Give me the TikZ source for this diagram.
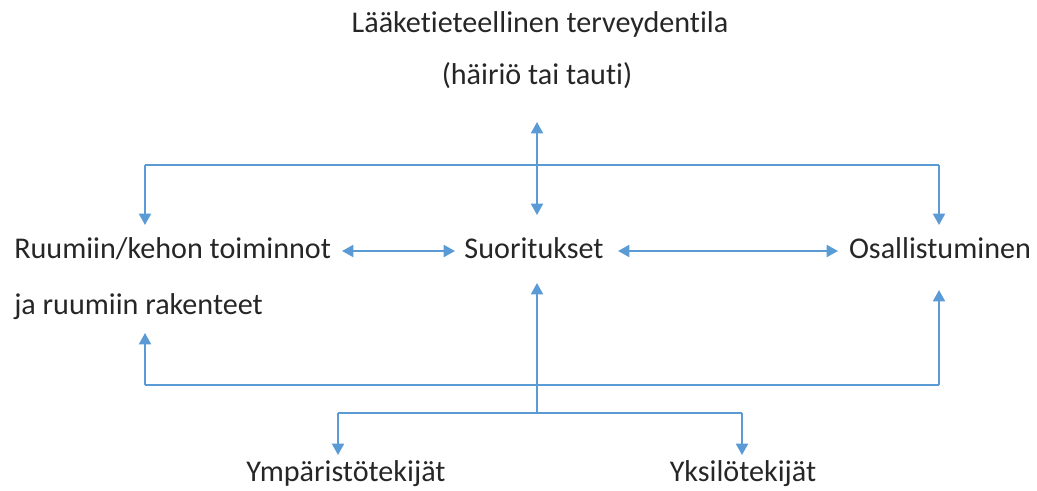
\documentclass[tikz,border=0pt]{standalone}
\usepackage{fontspec}
\setmainfont{Carlito}[Ligatures={NoCommon,NoContextual},Contextuals={NoAlternate}]
\usetikzlibrary{arrows.meta,positioning}
\definecolor{linkblue}{HTML}{5B9BD5}
\definecolor{textgray}{HTML}{262626}

\tikzset{
  lbl/.style={inner sep=0pt, anchor=base, text=textgray,
    font=\fontsize{22.6}{26}\selectfont},
  line/.style={draw=linkblue, line width=1.4pt},
  link/.style={line, -{Triangle[width=9pt,length=8.5pt]}},
  dlink/.style={line, {Triangle[width=9pt,length=8.5pt]}-{Triangle[width=9pt,length=8.5pt]}}
}

\begin{document}
\begin{tikzpicture}[x=0.75pt,y=-0.75pt]
  \useasboundingbox (0,0) rectangle (1037,490);

  % texts
  \node[lbl] (health) at (540,32) {Lääketieteellinen terveydentila};
  \node[lbl] (disorder) at (537,84) {(häiriö tai tauti)};
  \node[lbl,anchor=base west] (body) at (14,258) {Ruumiin/kehon toiminnot};
  \node[lbl,anchor=base west] (struct) at (14,314) {ja ruumiin rakenteet};
  \node[lbl] (activity) at (534,258) {Suoritukset};
  \node[lbl] (particip) at (940,258) {Osallistuminen};
  \node[lbl] (environ) at (346,481) {Ympäristötekijät};
  \node[lbl] (personal) at (743,481) {Yksilötekijät};

  % corner points
  \coordinate (topl) at (145,165);
  \coordinate (topr) at (939,165);
  \coordinate (botl) at (145,385);
  \coordinate (botr) at (939,385);
  \coordinate (ctx) at (537,413);
  \coordinate (ctxl) at (338,413);
  \coordinate (ctxr) at (742,413);

  % upper part
  \draw[dlink] (537,122) -- (537,215);
  \draw[line] (topl) -- (topr);
  \draw[link] (topl) -- (145,225);
  \draw[link] (topr) -- (939,225);

  % middle row
  \draw[dlink] (342,251) -- (455,251);
  \draw[dlink] (618,251) -- (838,251);

  % lower part
  \draw[line] (botl) -- (botr);
  \draw[link] (botl) -- (145,333);
  \draw[link] (botr) -- (939,290);
  \draw[link] (ctx) -- (537,283);

  % context factors
  \draw[line] (ctxl) -- (ctxr);
  \draw[link] (ctxl) -- (338,455);
  \draw[link] (ctxr) -- (742,455);
\end{tikzpicture}
\end{document}
